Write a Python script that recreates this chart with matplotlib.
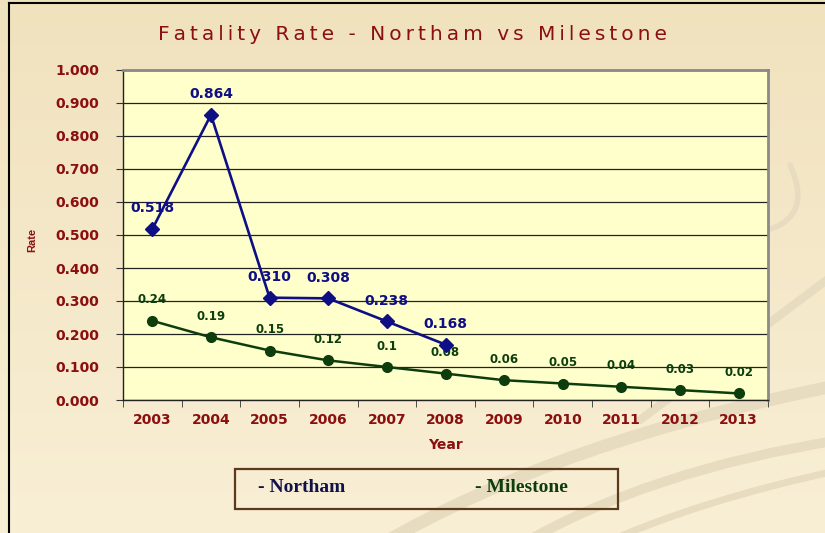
import numpy as np
import matplotlib.pyplot as plt
from matplotlib.patches import Rectangle, PathPatch
from matplotlib.path import Path

years = ['2003', '2004', '2005', '2006', '2007', '2008', '2009', '2010', '2011', '2012', '2013']
northam = [0.518, 0.864, 0.310, 0.308, 0.238, 0.168]
northam_labels = ['0.518', '0.864', '0.310', '0.308', '0.238', '0.168']
milestone = [0.24, 0.19, 0.15, 0.12, 0.1, 0.08, 0.06, 0.05, 0.04, 0.03, 0.02]
milestone_labels = ['0.24', '0.19', '0.15', '0.12', '0.1', '0.08', '0.06', '0.05', '0.04', '0.03', '0.02']

dark_red = '#8b0f0f'
navy = '#0f0f85'
green = '#0d3d0d'

fig = plt.figure(figsize=(8.25, 5.33), dpi=100)

# background gradient + decorative swooshes (pixel coords, y down)
bg = fig.add_axes([0, 0, 1, 1], zorder=-10)
grad = np.linspace(0, 1, 256).reshape(-1, 1)
top = np.array([0.945, 0.886, 0.745])
bot = np.array([0.975, 0.937, 0.835])
img = top + (bot - top) * grad[..., None]
bg.imshow(img, aspect='auto', extent=[0, 825, 533, 0])
swoosh = '#e8dcc0'
curves = [
    ([(380, 545), (560, 440), (840, 385)], 9),
    ([(520, 545), (650, 470), (840, 440)], 7),
    ([(600, 545), (700, 500), (840, 470)], 5),
    ([(640, 420), (760, 330), (840, 270)], 6),
    ([(790, 165), (815, 220), (760, 232)], 4),
]
for pts, w in curves:
    path = Path(pts, [Path.MOVETO, Path.CURVE3, Path.CURVE3])
    bg.add_patch(PathPatch(path, facecolor='none', edgecolor=swoosh, lw=w, capstyle='round'))
bg.plot([9, 9], [533, 3], color='black', lw=1.5)
bg.plot([9, 825], [3, 3], color='black', lw=1.5)
bg.set_xlim(0, 825)
bg.set_ylim(533, 0)
bg.axis('off')

ax = fig.add_axes([123 / 825, 133 / 533, 645 / 825, 330 / 533])
ax.set_facecolor('#ffffcc')
x = np.arange(len(years))

ax.plot(x, milestone, color=green, lw=1.8, marker='o', markersize=7, zorder=3)
ax.plot(x[:len(northam)], northam, color=navy, lw=1.9, marker='D', markersize=7.5, zorder=4)

for xi, v, t in zip(x, northam, northam_labels):
    ax.annotate(t, (xi, v), xytext=(0, 15), textcoords='offset points', ha='center', va='center',
                color=navy, fontsize=10, fontweight='bold')
for xi, v, t in zip(x, milestone, milestone_labels):
    ax.annotate(t, (xi, v), xytext=(0, 15), textcoords='offset points', ha='center', va='center',
                color=green, fontsize=8.5, fontweight='bold')

ax.set_xlim(-0.5, len(years) - 0.5)
ax.set_ylim(0, 1)
ax.set_yticks(np.arange(0, 1.01, 0.1))
ax.set_yticklabels([f'{v:.3f}' for v in np.arange(0, 1.01, 0.1)])
ax.yaxis.grid(True, color='#222222', lw=0.9)
ax.set_axisbelow(True)

ax.set_xticks(x)
ax.set_xticklabels(years)
ax.set_xticks(np.arange(-0.5, len(years), 1), minor=True)
ax.tick_params(axis='x', which='major', length=0, pad=9)
ax.tick_params(axis='x', which='minor', length=5, color='#333333', direction='out')
ax.tick_params(axis='y', length=5, color='#333333', direction='out', pad=12)
for lab in ax.get_xticklabels() + ax.get_yticklabels():
    lab.set_color(dark_red)
    lab.set_fontweight('bold')
    lab.set_fontsize(10)

for s in ['left', 'bottom']:
    ax.spines[s].set_color('#222222')
    ax.spines[s].set_linewidth(1.0)
for s in ['top', 'right']:
    ax.spines[s].set_color('#8a8a8a')
    ax.spines[s].set_linewidth(2.0)

ax.set_xlabel('Year', color=dark_red, fontsize=10, fontweight='bold', labelpad=8)
fig.text(32 / 825, 1 - 240 / 533, 'Rate', rotation=90, color=dark_red, fontsize=8,
         fontweight='bold', ha='center', va='center', family='Liberation Sans')

title = 'Fatality Rate - Northam vs Milestone'
fig.text(0.5, 1 - 35 / 533, '\u2009'.join(title), ha='center', va='center',
         color=dark_red, fontsize=14.5)

# legend box
fig.patches.append(Rectangle((235 / 825, 1 - 509 / 533), 383 / 825, 40 / 533, transform=fig.transFigure,
                             facecolor='none', edgecolor='#5a3a1a', lw=1.6))
fig.text(258 / 825, 1 - 488 / 533, '- Northam', color='#12124a', fontsize=14, fontweight='bold',
         family='Liberation Serif', ha='left', va='center')
fig.text(475 / 825, 1 - 488 / 533, '- Milestone', color='#0d3d0d', fontsize=14, fontweight='bold',
         family='Liberation Serif', ha='left', va='center')

fig.savefig('out.png', dpi=100)
